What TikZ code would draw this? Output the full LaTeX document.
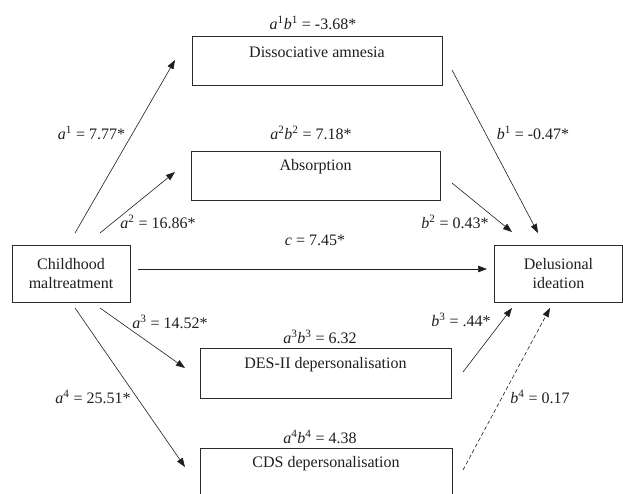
\documentclass[tikz,border=0pt]{standalone}
\usepackage{fontspec}
\setmainfont{Liberation Serif}
\usetikzlibrary{arrows.meta}
\definecolor{txt}{HTML}{1E1E1E}
\definecolor{boxc}{HTML}{2A2A2A}
\newcommand{\ab}[2]{\textit{#1}\textsuperscript{#2}}
\begin{document}
\begin{tikzpicture}[x=1pt,y=-1pt,
  every node/.style={font=\fontsize{16}{19}\selectfont, text=txt, inner sep=0pt},
  box/.style={draw=boxc, line width=0.9pt, rectangle},
  conn/.style={draw=txt, line width=0.6pt, -{Triangle[length=9pt,width=6.5pt]}},
  dconn/.style={conn, dash pattern=on 4pt off 2.5pt}
]
\clip (0,0) rectangle (623,493);
% boxes
\node[box, minimum width=250pt, minimum height=49pt] (da) at (317,60.5) {};
\node[box, minimum width=249pt, minimum height=49pt] (ab) at (315.5,175.5) {};
\node[box, minimum width=118pt, minimum height=57pt, align=center] (cm) at (71,273.5) {Childhood\\maltreatment};
\node[box, minimum width=128pt, minimum height=57pt, align=center] (di) at (558.5,273.5) {Delusional\\ideation};
\node[box, minimum width=251pt, minimum height=50pt] (des) at (325.5,373.5) {};
\node[box, minimum width=252pt, minimum height=50pt] (cds) at (326,473) {};
% box texts
\node (tda) at ([yshift=-16.5pt]da.north) {Dissociative amnesia};
\node (tab) at ([yshift=-16.5pt]ab.north) {Absorption};
\node (tdes) at ([yshift=-16.5pt]des.north) {DES-II depersonalisation};
\node (tcds) at ([yshift=-16.5pt]cds.north) {CDS depersonalisation};
% indirect effects
\node (l1) at (313,23) {\ab{a}{1}\ab{b}{1} = -3.68*};
\node (l2) at (311,133) {\ab{a}{2}\ab{b}{2} = 7.18*};
\node (l3) at (320,337) {\ab{a}{3}\ab{b}{3} = 6.32};
\node (l4) at (320,437) {\ab{a}{4}\ab{b}{4} = 4.38};
% endpoints
\coordinate (a1s) at (75,233); \coordinate (a1e) at (175,60);
\coordinate (a2s) at (100,233); \coordinate (a2e) at (175,172);
\coordinate (cs) at (138,269); \coordinate (ce) at (487,269);
\coordinate (a3s) at (100,308); \coordinate (a3e) at (185,368);
\coordinate (a4s) at (75,308); \coordinate (a4e) at (185,467);
\coordinate (b1s) at (452,70); \coordinate (b1e) at (538,233);
\coordinate (b2s) at (452,183); \coordinate (b2e) at (512,232);
\coordinate (b3s) at (463,372); \coordinate (b3e) at (512,308);
\coordinate (b4s) at (463,470); \coordinate (b4e) at (550,308);
% connectors
\draw[conn] (a1s) -- (a1e);
\draw[conn] (a2s) -- (a2e);
\draw[conn] (cs) -- (ce);
\draw[conn] (a3s) -- (a3e);
\draw[conn] (a4s) -- (a4e);
\draw[conn] (b1s) -- (b1e);
\draw[conn] (b2s) -- (b2e);
\draw[conn] (b3s) -- (b3e);
\draw[dconn] (b4s) -- (b4e);
% path labels
\node (la1) at (91.5,133) {\ab{a}{1} = 7.77*};
\node (la2) at (158,222) {\ab{a}{2} = 16.86*};
\node (lc) at (315,240) {\textit{c} = 7.45*};
\node (la3) at (170,322) {\ab{a}{3} = 14.52*};
\node (la4) at (93,397) {\ab{a}{4} = 25.51*};
\node (lb1) at (533,133) {\ab{b}{1} = -0.47*};
\node (lb2) at (455,222) {\ab{b}{2} = 0.43*};
\node (lb3) at (461,320) {\ab{b}{3} = .44*};
\node (lb4) at (540,397) {\ab{b}{4} = 0.17};
\end{tikzpicture}
\end{document}
